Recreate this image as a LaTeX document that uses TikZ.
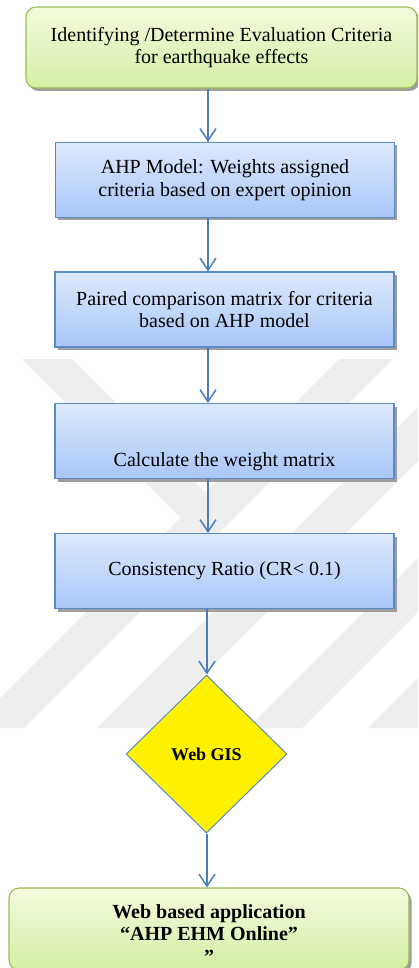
\documentclass[tikz,border=0pt]{standalone}
\usepackage{fontspec}
\setmainfont{Liberation Serif}
\usetikzlibrary{shapes.geometric,shadows,arrows.meta}
\definecolor{arrowblue}{HTML}{4A7EBB}
\definecolor{boxborder}{HTML}{5B8AC6}
\definecolor{boxtop}{HTML}{DEE9FC}
\definecolor{boxbot}{HTML}{A8C6F8}
\definecolor{greentop}{HTML}{F2FADD}
\definecolor{greenbot}{HTML}{D6EFA4}
\definecolor{greenborder}{HTML}{9BBB59}
\definecolor{wm}{HTML}{EEEEEE}
\tikzset{
  txt/.style={font=\fontsize{20}{22.5}\selectfont, align=center, inner sep=0pt},
  boldtxt/.style={font=\fontsize{20}{22.5}\selectfont\bfseries, align=center, inner sep=0pt},
  shadowed/.style={drop shadow={shadow xshift=2.5pt, shadow yshift=-3pt, fill=black!38, opacity=1}},
  bluebox/.style={draw=boxborder, line width=1.1pt, top color=boxtop, bottom color=boxbot,
    minimum width=339pt, minimum height=75pt, inner sep=0pt, shadowed, txt},
  greenbox/.style={draw=greenborder, line width=1.1pt, rounded corners=10pt,
    top color=greentop, bottom color=greenbot, inner sep=0pt, shadowed, txt},
  arr/.style={draw=arrowblue, line width=1.5pt, -{Straight Barb[length=12pt,width=16pt,line width=1.5pt]}},
  wmark/.style={fill=wm, draw=none}
}
\begin{document}
\begin{tikzpicture}[x=1pt,y=-1pt]
\useasboundingbox (0,0) rectangle (418,968);
\begin{scope}
\clip (0,0) rectangle (418,968);
% faint background watermark
\fill[wmark] (339,359) -- (393,359) -- (24,728) -- (-30,728) -- cycle;
\fill[wmark] (22,359) -- (72,359) -- (205.5,492.5) -- (180.5,517.5) -- cycle;
\fill[wmark] (466,359) -- (520,359) -- (151,728) -- (97,728) -- cycle;
\fill[wmark] (617,359) -- (671,359) -- (302,728) -- (248,728) -- cycle;
\fill[wmark] (737,359) -- (791,359) -- (422,728) -- (368,728) -- cycle;

\coordinate (axis) at (208,0);
\coordinate (axisb) at (207,0);

\node[greenbox, minimum width=391pt, minimum height=81pt] (top) at (221.5,47.5)
  {Identifying /Determine Evaluation Criteria\\for earthquake effects};
\node[bluebox] (b2) at (225,180) {AHP Model: Weights assigned\\criteria based on expert opinion};
\node[bluebox] (b3) at (224.5,309.5) {Paired comparison matrix for criteria\\based on AHP model};
\node[bluebox] (b4) at (224.5,441) {};
\node[txt] (b4t) at (224.5,462) {Calculate the weight matrix};
\node[bluebox] (b5) at (224.5,571) {Consistency Ratio (CR< 0.1)};
\node[diamond, aspect=1.02, minimum width=161pt, minimum height=158pt, inner sep=0pt,
  fill=yellow, draw=boxborder, line width=1pt,
  font=\fontsize{18}{20}\selectfont\bfseries] (gis) at (206.5,754) {Web GIS};
\node[greenbox, minimum width=400pt, minimum height=82pt] (app) at (209,929) {};
\node[boldtxt] (appt) at (209,934) {Web based application\\“AHP EHM Online”\\”};

\draw[arr] (top.south -| axis) -- (b2.north -| axis);
\draw[arr] (b2.south -| axis) -- (b3.north -| axis);
\draw[arr] (b3.south -| axis) -- (b4.north -| axis);
\draw[arr] (b4.south -| axis) -- (b5.north -| axis);
\draw[arr] (b5.south -| axisb) -- (gis.north -| axisb);
\draw[arr] (gis.south -| axisb) -- (app.north -| axisb);
\end{scope}
\end{tikzpicture}
\end{document}
